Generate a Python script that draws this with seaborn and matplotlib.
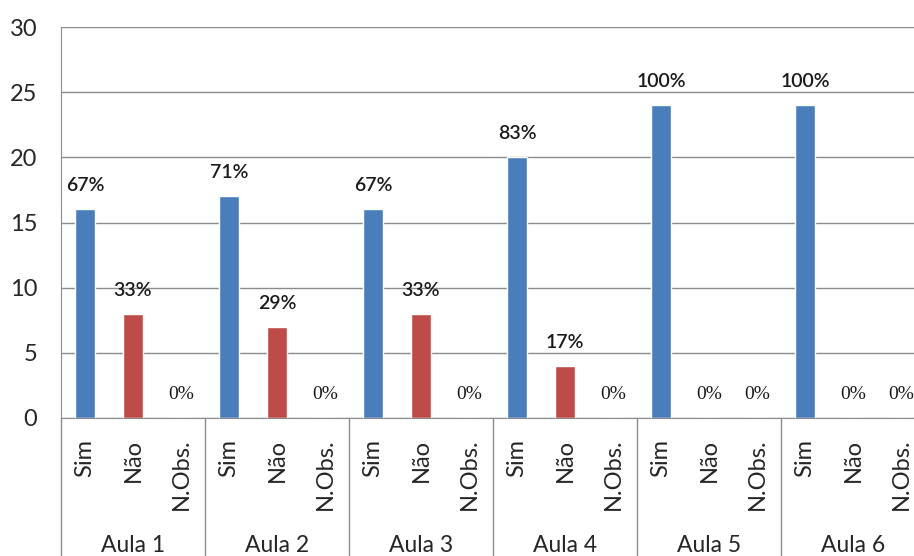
import seaborn as sns
import pandas as pd
import numpy as np
import matplotlib.pyplot as plt
import matplotlib.transforms as mtrans

aulas = ['Aula 1', 'Aula 2', 'Aula 3', 'Aula 4', 'Aula 5', 'Aula 6']
categorias = ['Sim', 'Não', 'N.Obs.']
sim = [16, 17, 16, 20, 24, 24]
nao = [8, 7, 8, 4, 0, 0]
nobs = [0, 0, 0, 0, 0, 0]

linhas = []
for i, a in enumerate(aulas):
    for c, v in zip(categorias, [sim[i], nao[i], nobs[i]]):
        linhas.append({'pos': a + '|' + c, 'aula': a, 'cat': c, 'valor': v})
data = pd.DataFrame(linhas)
total = data.groupby('aula')['valor'].transform('sum')
data['pct'] = (data['valor'] / total * 100).round().astype(int)

cores = {'Sim': '#4A7EBB', 'Não': '#BE4B48', 'N.Obs.': '#98B954'}

sns.set_style('white')
plt.rcParams['font.family'] = ['Lato', 'DejaVu Sans']
fig = plt.figure(figsize=(9.14, 5.56), dpi=100)
ax = fig.add_axes([61/914, 138/556, 864/914, 391/556])

sns.barplot(data=data, x='pos', y='valor', hue='cat', palette=cores, dodge=False,
            width=0.42, saturation=1, legend=False, ax=ax)

ax.set_ylim(0, 30)
ax.set_xlim(-0.5, len(data) - 0.5)
ax.set_yticks(range(0, 31, 5))
ax.yaxis.grid(True, color='#8c8c8c', linewidth=1)
ax.set_axisbelow(True)
for s in ['top', 'right']:
    ax.spines[s].set_visible(False)
ax.spines['left'].set_color('#8c8c8c')
ax.spines['bottom'].set_color('#8c8c8c')
ax.tick_params(axis='both', length=0)
ax.tick_params(axis='y', labelsize=17, pad=17)
ax.set_xticks(range(len(data)))
ax.set_xticklabels(data['cat'], rotation=90, fontsize=17)
ax.tick_params(axis='x', pad=15)
for t in ax.get_xticklabels():
    t.set_verticalalignment('top')
ax.set_xlabel(None)
ax.set_ylabel(None)

# rótulos de percentagem
for i, r in data.iterrows():
    if r['valor'] > 0:
        ax.annotate(f"{r['pct']}%", (i, r['valor']), xytext=(0, 17), textcoords='offset points',
                    ha='center', va='center', fontsize=14, fontweight='semibold', color='#1a1a1a')
    else:
        ax.annotate(f"{r['pct']}%", (i, 0), xytext=(0, 17), textcoords='offset points',
                    ha='center', va='center', fontsize=14, family='Liberation Serif', color='#1a1a1a')

# eixo de grupos (Aula 1 ... Aula 6)
trans = mtrans.blended_transform_factory(ax.transData, ax.transAxes)
for g in range(len(aulas) + 1):
    x = g * 3 - 0.5
    ax.plot([x, x], [0, -0.4], transform=trans, color='#8c8c8c', linewidth=1, clip_on=False)
for g, a in enumerate(aulas):
    ax.text(g * 3 + 1, -0.325, a, transform=trans, ha='center', va='center', fontsize=16.5)

plt.savefig('out.png', dpi=100)
